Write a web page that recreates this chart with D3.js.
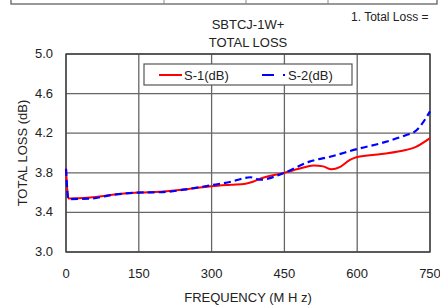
<!DOCTYPE html>
<html>
<head>
<meta charset="utf-8">
<script src="https://cdn.jsdelivr.net/npm/d3@7"></script>
<style>
  body { margin: 0; background: #fff; }
  text { font-family: "Liberation Sans", Arial, sans-serif; fill: #222; }
</style>
</head>
<body>
<div id="chart"></div>
<script>
// frequency (MHz) and loss (dB)
var freq_s1 = [0, 5, 50, 100, 150, 200, 250, 300, 340, 370, 385, 400, 450, 480, 510, 530, 547, 565, 585, 600, 650, 700, 720, 750]
var loss_s1 = [3.85, 3.54, 3.55, 3.58, 3.60, 3.61, 3.635, 3.665, 3.68, 3.69, 3.71, 3.74, 3.80, 3.84, 3.875, 3.865, 3.835, 3.86, 3.93, 3.96, 3.99, 4.03, 4.06, 4.15]
var freq_s2 = [0, 5, 50, 100, 150, 200, 250, 300, 340, 380, 400, 450, 500, 550, 600, 650, 700, 720, 750]
var loss_s2 = [3.84, 3.535, 3.54, 3.58, 3.60, 3.605, 3.635, 3.675, 3.71, 3.755, 3.73, 3.80, 3.91, 3.97, 4.04, 4.10, 4.18, 4.22, 4.42]
var x_ticks = [0, 150, 300, 450, 600, 750]
var y_ticks = [3.0, 3.4, 3.8, 4.2, 4.6, 5.0]
var series_names = ["S-1(dB)", "S-2(dB)"]

var width = 440, height = 306

var svg = d3.select("#chart")
    .append("svg")
    .attr("width", width)
    .attr("height", height)

// scrap of the table above the chart
var top_box = svg.append("g")
top_box.append("rect")
    .attr("x", 11).attr("y", -10).attr("width", 426).attr("height", 14)
    .attr("fill", "none").attr("stroke", "#555").attr("stroke-width", 1.2)
top_box.selectAll("line")
    .data([164, 246, 328])
    .enter().append("line")
    .attr("x1", d => d).attr("x2", d => d).attr("y1", 0).attr("y2", 4)
    .attr("stroke", "#888")
svg.append("text").attr("x", 351).attr("y", 21).attr("font-size", 12).text("1. Total Loss =")

var scale_x = d3.scaleLinear().domain([0, 750]).range([66, 430])
var scale_y = d3.scaleLinear().domain([3.0, 5.0]).range([252, 54])

// grid
svg.selectAll(".gx").data(x_ticks).enter().append("line")
    .attr("x1", d => scale_x(d)).attr("x2", d => scale_x(d))
    .attr("y1", scale_y(3.0)).attr("y2", scale_y(5.0))
    .attr("stroke", "#666").attr("stroke-width", 1.3)
svg.selectAll(".gy").data(y_ticks).enter().append("line")
    .attr("x1", scale_x(0)).attr("x2", scale_x(750))
    .attr("y1", d => scale_y(d)).attr("y2", d => scale_y(d))
    .attr("stroke", "#666").attr("stroke-width", 1.3)
svg.append("rect")
    .attr("x", scale_x(0)).attr("y", scale_y(5.0))
    .attr("width", scale_x(750) - scale_x(0)).attr("height", scale_y(3.0) - scale_y(5.0))
    .attr("fill", "none").attr("stroke", "#444").attr("stroke-width", 1.4)

// tick labels
svg.selectAll(".tx").data(x_ticks).enter().append("text")
    .attr("x", d => scale_x(d)).attr("y", 278)
    .attr("text-anchor", "middle").attr("font-size", 13)
    .text(d => d)
svg.selectAll(".ty").data(y_ticks).enter().append("text")
    .attr("x", 53).attr("y", d => scale_y(d) + 4)
    .attr("text-anchor", "end").attr("font-size", 13)
    .text(d => d.toFixed(1))

// titles
svg.append("text").attr("x", 248).attr("y", 29).attr("text-anchor", "middle").attr("font-size", 13).text("SBTCJ-1W+")
svg.append("text").attr("x", 248).attr("y", 47).attr("text-anchor", "middle").attr("font-size", 13).text("TOTAL LOSS")
svg.append("text").attr("x", 248).attr("y", 302).attr("text-anchor", "middle").attr("font-size", 13).text("FREQUENCY (M H z)")
svg.append("text")
    .attr("transform", "translate(27,153) rotate(-90)")
    .attr("text-anchor", "middle").attr("font-size", 13)
    .text("TOTAL LOSS (dB)")

// curves
var line = d3.line()
    .x(d => scale_x(d[0]))
    .y(d => scale_y(d[1]))
    .curve(d3.curveMonotoneX)

svg.append("path")
    .datum(d3.zip(freq_s1, loss_s1))
    .attr("d", line)
    .attr("fill", "none").attr("stroke", "#ff0000").attr("stroke-width", 2)
svg.append("path")
    .datum(d3.zip(freq_s2, loss_s2))
    .attr("d", line)
    .attr("fill", "none").attr("stroke", "#0000ff").attr("stroke-width", 2.2)
    .attr("stroke-dasharray", "7,4")

// legend
var legend = svg.append("g")
legend.append("rect")
    .attr("x", 144).attr("y", 64).attr("width", 208).attr("height", 21)
    .attr("fill", "#fff").attr("stroke", "#555").attr("stroke-width", 1.2)
legend.append("line")
    .attr("x1", 159).attr("x2", 182).attr("y1", 75).attr("y2", 75)
    .attr("stroke", "#ff0000").attr("stroke-width", 2)
legend.append("line")
    .attr("x1", 262).attr("x2", 285).attr("y1", 75).attr("y2", 75)
    .attr("stroke", "#0000ff").attr("stroke-width", 2)
    .attr("stroke-dasharray", "12,9,2")
legend.append("text").attr("x", 184).attr("y", 80).attr("font-size", 13).text(series_names[0])
legend.append("text").attr("x", 288).attr("y", 80).attr("font-size", 13).text(series_names[1])
</script>
</body>
</html>
